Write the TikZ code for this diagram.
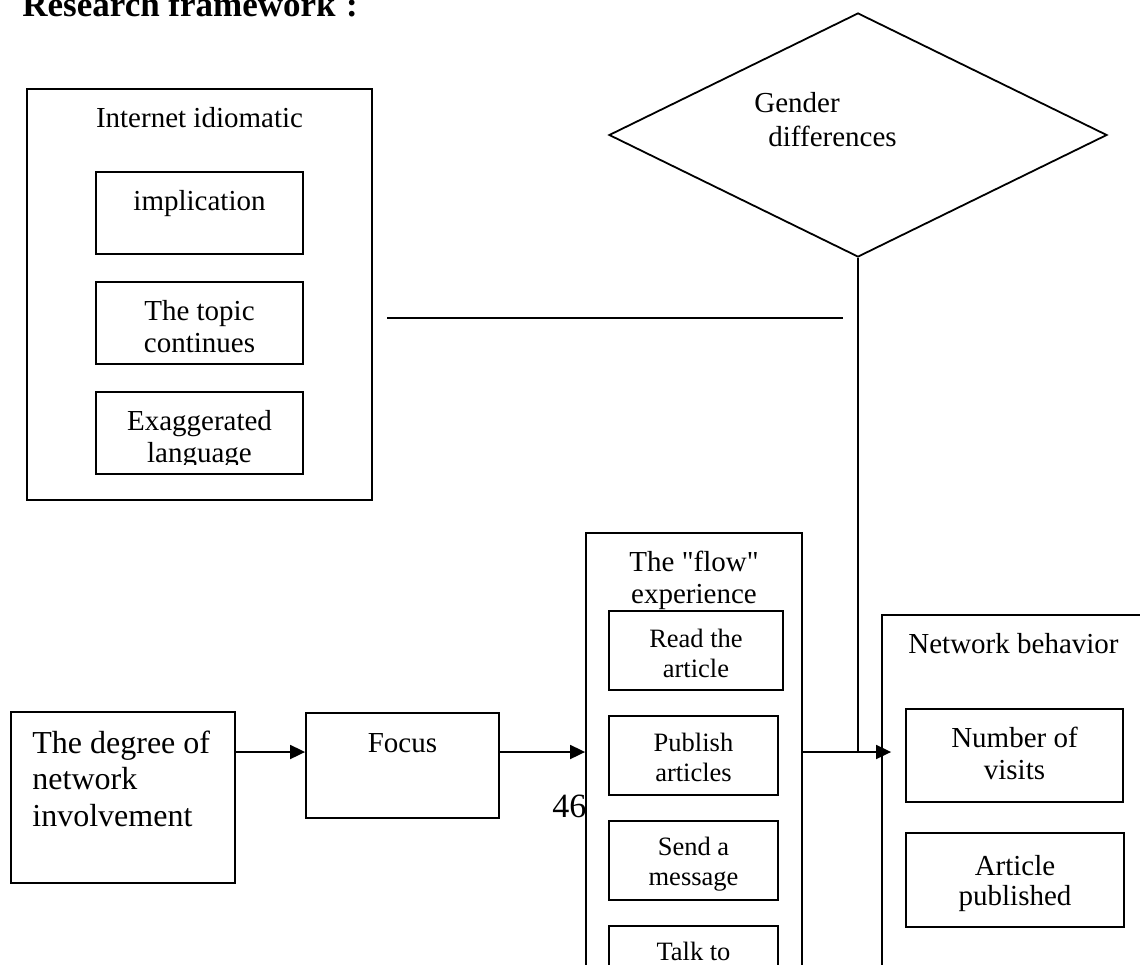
\documentclass[tikz,border=0pt]{standalone}
\usepackage{fontspec}
\setmainfont{Liberation Serif}
\usetikzlibrary{arrows.meta,fit,shapes.geometric}
\begin{document}
\begin{tikzpicture}[x=0.5pt,y=-0.5pt,
  box/.style={draw, line width=0.9pt, fill=white, inner sep=0pt},
  lbl/.style={inner sep=0pt, anchor=base, text width=120pt, align=flush center, font=\fontsize{14.5}{16}\selectfont},
  small/.style={lbl, font=\fontsize{13.25}{15}\selectfont},
  lefttext/.style={inner sep=0pt, anchor=base west, text width=110pt, align=flush left},
  link/.style={line width=0.9pt},
  arr/.style={link, -{Triangle[length=7.5pt,width=7pt]}}]
\useasboundingbox (0,0) rectangle (1140,964);
\clip (0,0) rectangle (1140,964);

% title
\node[inner sep=0pt, anchor=base west, font=\bfseries\fontsize{17.5}{20}\selectfont] (title) at (22,16) {Research framework\hspace{0.3em}:};

% Internet idiomatic group
\node[box, fit={(27,89) (372,500)}] (idiom) {};
\node[lbl] (idiomT) at (199.5,127) {Internet idiomatic};
\node[box, fit={(96,172) (303,254)}] (impl) {};
\node[lbl] (implT) at (199.5,210) {implication};
\node[box, fit={(96,282) (303,364)}] (topic) {};
\node[lbl] (topicT) at (199.5,320) {The topic\\continues};
\node[box, fit={(96,392) (303,474)}] (exag) {};
\begin{scope}
  \clip (96,392) rectangle (303,464);
  \node[lbl] (exagT) at (199.5,430) {Exaggerated\\language};
\end{scope}

% free horizontal line
\coordinate (hlA) at (387,318);
\coordinate (hlB) at (843,318);
\draw[link] (hlA) -- (hlB);

% Gender differences
\node[draw, diamond, line width=0.9pt, inner sep=0pt, minimum width=249pt, minimum height=122pt] (gender) at (858,135) {};
\node[lefttext, font=\fontsize{14.5}{17}\selectfont] (genderT) at (754,112) {Gender\\\hspace*{7pt}differences};

% page number under the flow box
\node[inner sep=0pt, anchor=base west, font=\fontsize{17}{20}\selectfont] (pagenum) at (552,817) {46};

% degree and focus
\node[box, fit={(11,712) (235,883)}] (degree) {};
\node[lefttext, font=\fontsize{16}{18.25}\selectfont] (degreeT) at (32,753) {The degree of\\network\\involvement};
\node[box, fit={(306,713) (499,818)}] (focus) {};
\node[lbl] (focusT) at (402.5,752) {Focus};

% flow experience
\node[box, fit={(586,533) (802,1000)}] (flow) {};
\node[lbl] (flowT) at (694,571) {The \textquotedbl flow\textquotedbl\\experience};
\node[box, fit={(609,611) (783,690)}] (read) {};
\node[small] (readT) at (696,647) {Read the\\article};
\node[box, fit={(609,716) (778,795)}] (publish) {};
\node[small] (publishT) at (693.5,751) {Publish\\articles};
\node[box, fit={(609,821) (778,900)}] (send) {};
\node[small] (sendT) at (693.5,855) {Send a\\message};
\node[box, fit={(609,926) (778,1000)}] (talk) {};
\node[small] (talkT) at (693.5,960) {Talk to};

% network behavior
\node[box, fit={(882,615) (1200,1000)}] (network) {};
\node[lbl] (networkT) at (1013.5,653) {Network behavior};
\node[box, fit={(906,709) (1123,802)}] (visits) {};
\node[lbl] (visitsT) at (1014.5,747) {Number of\\visits};
\node[box, fit={(906,833) (1124,927)}] (artpub) {};
\node[lbl, font=\fontsize{14.5}{15}\selectfont] (artpubT) at (1015,875) {Article\\published};

% connectors
\coordinate (row) at (0,752);
\coordinate (nettip) at ([xshift=5pt]network.west);
\draw[arr] (degree.east |- row) -- (focus.west |- row);
\draw[arr] (focus.east |- row) -- (flow.west |- row);
\draw[arr] (flow.east |- row) -- (nettip |- row);
\draw[link] (gender.south) -- (gender.south |- row);
\end{tikzpicture}
\end{document}
